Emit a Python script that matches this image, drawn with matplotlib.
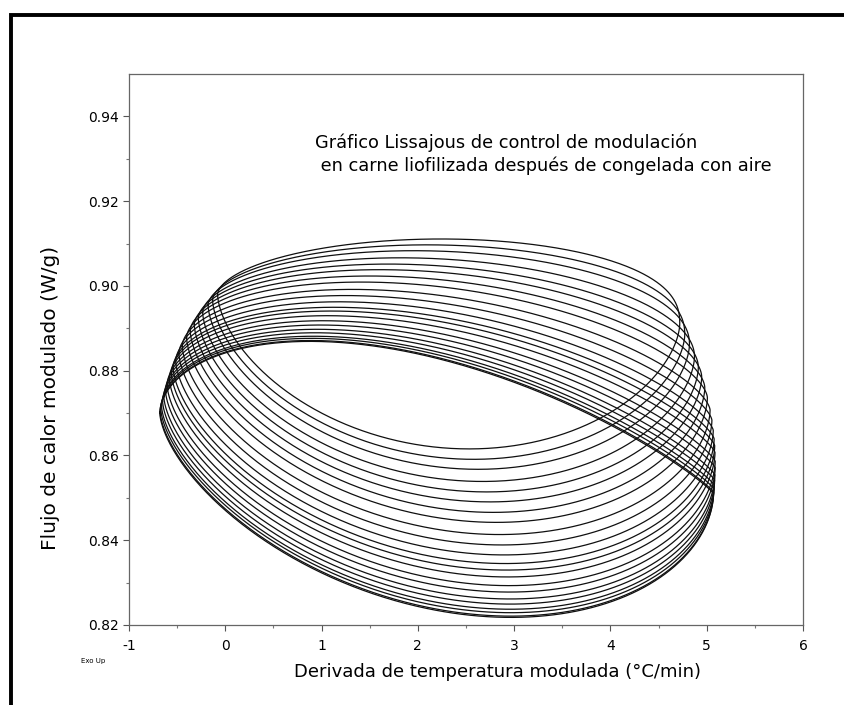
import matplotlib
matplotlib.use("Agg")
import matplotlib.pyplot as plt
from matplotlib.lines import Line2D
import numpy as np

plt.rcParams['font.family'] = ['DejaVu Sans']

# one entry per modulation cycle, first cycle = lowest loop
# depth of each loop's lower arc (W/g)
loop_bottom = [0.8228, 0.8231, 0.8239, 0.8247, 0.8259, 0.8271, 0.8287, 0.8302,
               0.8322, 0.8338, 0.8353, 0.8373, 0.8396, 0.8420, 0.8448, 0.8471,
               0.8495, 0.8518, 0.8542, 0.8570, 0.8593, 0.8617]
# height of each loop's upper arc (W/g)
loop_top = [0.8857, 0.8859, 0.8864, 0.8869, 0.8877, 0.8885, 0.8895, 0.8905,
            0.8917, 0.8928, 0.8937, 0.8950, 0.8965, 0.8980, 0.8998, 0.9013,
            0.9029, 0.9043, 0.9059, 0.9077, 0.9092, 0.9107]
# left turning point of each cycle (deriv. temp, heat flow)
left_x = [-0.680, -0.677, -0.670, -0.662, -0.651, -0.638, -0.621, -0.604,
          -0.581, -0.561, -0.542, -0.515, -0.482, -0.447, -0.402, -0.364,
          -0.322, -0.280, -0.235, -0.179, -0.132, -0.080]
left_y = [0.8700, 0.8703, 0.8710, 0.8717, 0.8728, 0.8739, 0.8753, 0.8766,
          0.8782, 0.8795, 0.8807, 0.8823, 0.8841, 0.8858, 0.8878, 0.8894,
          0.8909, 0.8924, 0.8938, 0.8955, 0.8967, 0.8980]
# right turning point of each cycle
right_x = [5.070, 5.072, 5.075, 5.079, 5.082, 5.085, 5.088, 5.088,
           5.086, 5.083, 5.077, 5.068, 5.054, 5.035, 5.007, 4.980,
           4.948, 4.913, 4.873, 4.821, 4.772, 4.720]
right_y = [0.8510, 0.8513, 0.8521, 0.8530, 0.8542, 0.8554, 0.8571, 0.8586,
           0.8607, 0.8623, 0.8639, 0.8659, 0.8683, 0.8707, 0.8736, 0.8760,
           0.8785, 0.8808, 0.8833, 0.8862, 0.8885, 0.8910]

x_ticks = [-1, 0, 1, 2, 3, 4, 5, 6]
y_ticks = [0.82, 0.84, 0.86, 0.88, 0.90, 0.92, 0.94]


def arc(u, a, b):
    """skewed bump on [0,1], peak value 1 at u = a/(a+b)"""
    us = a / (a + b)
    return (u ** a) * ((1 - u) ** b) / ((us ** a) * ((1 - us) ** b))


fig = plt.figure(figsize=(8.44, 7.05), dpi=100)
ax = fig.add_axes([129/844, 1-625/705, 674/844, 551/705])

s = np.linspace(0, np.pi, 400)
u = (1 - np.cos(s)) / 2
b0, b1 = loop_bottom[0], loop_bottom[-1]
for k in range(len(loop_bottom)):
    f = (loop_bottom[k] - b0) / (b1 - b0)
    # arc shape drifts from the first cycle to the last one
    au, bu = 0.55 + 0.03*f, 0.85 - 0.45*f
    al, bl = 0.62 - 0.02*f, 0.55 + 0.05*f
    x = left_x[k] + (right_x[k] - left_x[k]) * u
    chord = left_y[k] + (right_y[k] - left_y[k]) * u
    cu = left_y[k] + (right_y[k] - left_y[k]) * au / (au + bu)
    cl = left_y[k] + (right_y[k] - left_y[k]) * al / (al + bl)
    y_up = chord + (loop_top[k] - cu) * arc(u, au, bu)
    y_lo = chord - (cl - loop_bottom[k]) * arc(u, al, bl)
    xs = np.concatenate([x, x[::-1]])
    ys = np.concatenate([y_up, y_lo[::-1]])
    ax.plot(xs, ys, color='#101010', lw=0.9, solid_joinstyle='round')

ax.set_xlim(-1, 6)
ax.set_ylim(0.82, 0.95)
ax.set_xticks(x_ticks)
ax.set_xticklabels([str(v) for v in x_ticks])
ax.set_yticks(y_ticks)
ax.set_yticklabels(['%.2f' % v for v in y_ticks])
ax.set_xticks(np.arange(-0.5, 6, 1.0), minor=True)
ax.set_yticks(np.arange(0.83, 0.95, 0.02), minor=True)
ax.tick_params(which='major', direction='out', length=4, width=0.8,
               color='#555555', labelsize=10)
ax.tick_params(which='minor', direction='out', length=2.5, width=0.8,
               color='#777777')
ax.tick_params(axis='x', pad=6)
ax.tick_params(axis='y', pad=3)
for sp in ax.spines.values():
    sp.set_color('#666666')
    sp.set_linewidth(0.9)

ax.set_xlabel('Derivada de temperatura modulada (°C/min)', fontsize=13)
ax.xaxis.label.set_va('center')
ax.xaxis.set_label_coords(0.547, -0.085)
ax.set_ylabel('Flujo de calor modulado (W/g)', fontsize=14.5)
ax.yaxis.label.set_va('center')
ax.yaxis.set_label_coords(-0.117, 0.412)

fig.text(315/844, 1-143/705, 'Gráfico Lissajous de control de modulación',
         fontsize=12.8, ha='left', va='center')
fig.text(315/844, 1-166/705, ' en carne liofilizada después de congelada con aire',
         fontsize=12.8, ha='left', va='center')
fig.text(81/844, 1-661/705, 'Exo Up', fontsize=5, ha='left', va='center')

# heavy page border along top and left
fig.add_artist(Line2D([11/844, 11/844, 1.0], [0.0, 1-15/705, 1-15/705],
                      transform=fig.transFigure, color='black', lw=2.8,
                      solid_joinstyle='miter'))

fig.savefig('out.png', dpi=100)
